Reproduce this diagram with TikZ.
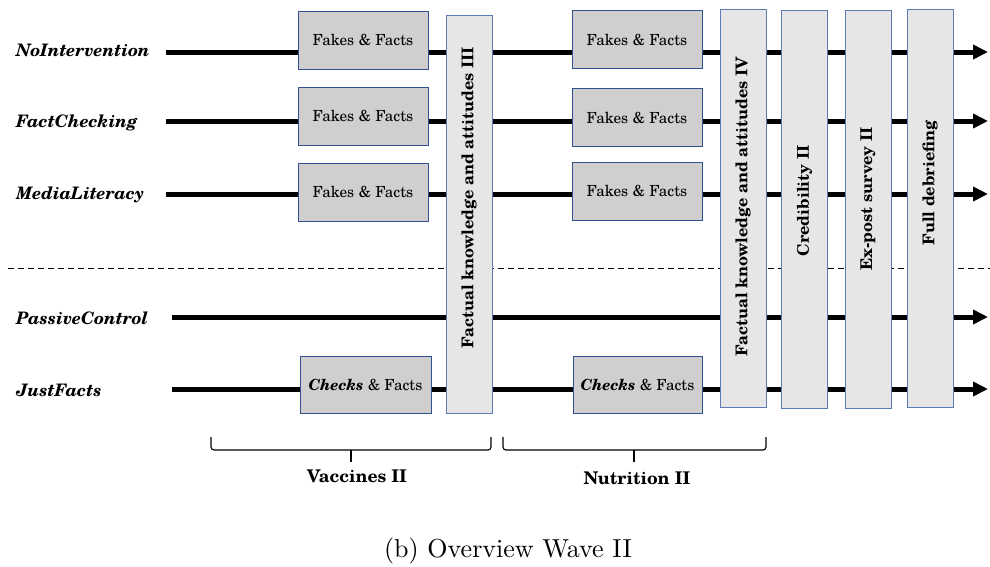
\documentclass[tikz,border=0pt]{standalone}
\usepackage{fontspec}
\setmainfont{TeX Gyre Schola}
\newfontfamily\lmfont{lmroman10-regular}[Extension=.otf]
\usetikzlibrary{arrows.meta}
\definecolor{sfill}{HTML}{D0CECE}
\definecolor{bfill}{HTML}{E7E6E6}
\definecolor{sline}{HTML}{2F528F}
\definecolor{bline}{HTML}{5B7DB5}
\begin{document}
\begin{tikzpicture}[x=1pt,y=-1pt,
  flow/.style={line width=5pt,-{Triangle[length=15pt,width=14pt]}},
  grp/.style={draw=sline,fill=sfill,line width=0.9pt,minimum width=130pt,minimum height=58pt,inner sep=0pt,font=\fontsize{15.3}{18}\selectfont},
  phase/.style={draw=bline,fill=bfill,line width=0.9pt,minimum width=46pt,inner sep=0pt},
  phtext/.style={rotate=90,inner sep=0pt,font=\bfseries\fontsize{16.2}{19}\selectfont},
  lab/.style={anchor=base west,inner sep=0pt,font=\bfseries\itshape\fontsize{17.2}{20}\selectfont},
  grplab/.style={anchor=base,inner sep=0pt,font=\bfseries\fontsize{17.5}{20}\selectfont},
  bracepath/.style={line width=1.1pt,rounded corners=3pt}]
\useasboundingbox (0,0) rectangle (990,566);

% group labels
\node[lab] (lNI) at (16,56) {NoIntervention};
\node[lab] (lFC) at (16,127) {FactChecking};
\node[lab] (lML) at (16,199) {MediaLiteracy};
\node[lab] (lPC) at (16,324) {PassiveControl};
\node[lab] (lJF) at (16,396) {JustFacts};

% timeline start / end points
\coordinate (s1) at (166,52);  \coordinate (e1) at (988,52);
\coordinate (s2) at (166,121); \coordinate (e2) at (988,121);
\coordinate (s3) at (166,194); \coordinate (e3) at (988,194);
\coordinate (s4) at (172,317); \coordinate (e4) at (988,317);
\coordinate (s5) at (172,389); \coordinate (e5) at (988,389);

% separator
\coordinate (d1) at (8,268); \coordinate (d2) at (990,268);
\draw[line width=0.8pt,dash pattern=on 6pt off 4pt] (d1) -- (d2);

% timelines
\draw[flow] (s1) -- (e1);
\draw[flow] (s2) -- (e2);
\draw[flow] (s3) -- (e3);
\draw[flow] (s4) -- (e4);
\draw[flow] (s5) -- (e5);

% first topic block
\node[grp] (a1) at (363,40) {Fakes \& Facts};
\node[grp] (a2) at (363,116) {Fakes \& Facts};
\node[grp] (a3) at (363,192) {Fakes \& Facts};
\node[grp,minimum width=131pt,minimum height=57pt] (a5) at (365.5,384.5) {\textbf{\itshape Checks} \& Facts};

% second topic block
\node[grp] (b1) at (637,39.5) {Fakes \& Facts};
\node[grp] (b2) at (637,117.5) {Fakes \& Facts};
\node[grp] (b3) at (637,191) {Fakes \& Facts};
\node[grp,minimum width=129pt,minimum height=57pt] (b5) at (637.5,384.5) {\textbf{\itshape Checks} \& Facts};

% phase boxes
\node[phase,minimum height=398pt] (p1) at (469,214) {};
\node[phase,minimum height=398pt] (p2) at (743,208) {};
\node[phase,minimum height=398pt] (p3) at (804.5,209) {};
\node[phase,minimum height=398pt] (p4) at (868,209) {};
\node[phase,minimum height=398pt] (p5) at (930,208) {};
\node[phtext] (t1) at (469,198) {Factual knowledge and attitudes III};
\node[phtext] (t2) at (743,207) {Factual knowledge and attitudes IV};
\node[phtext] (t3) at (804.5,201) {Credibility II};
\node[phtext] (t4) at (868,199) {Ex-post survey II};
\node[phtext] (t5) at (930,183) {Full debriefing};

% braces
\draw[bracepath] (211,437) |- (491,450) -- (491,437);
\draw[line width=1.1pt] (351,450) -- (351,462);
\node[grplab] (v) at (357,482) {Vaccines II};
\draw[bracepath] (503,437) |- (766,450) -- (766,437);
\draw[line width=1.1pt] (634,450) -- (634,462);
\node[grplab] (n) at (637,484) {Nutrition II};

% caption
\node[anchor=base,inner sep=0pt,font=\lmfont\fontsize{26}{30}\selectfont] (cap) at (508,557) {(b) Overview Wave II};
\end{tikzpicture}
\end{document}
